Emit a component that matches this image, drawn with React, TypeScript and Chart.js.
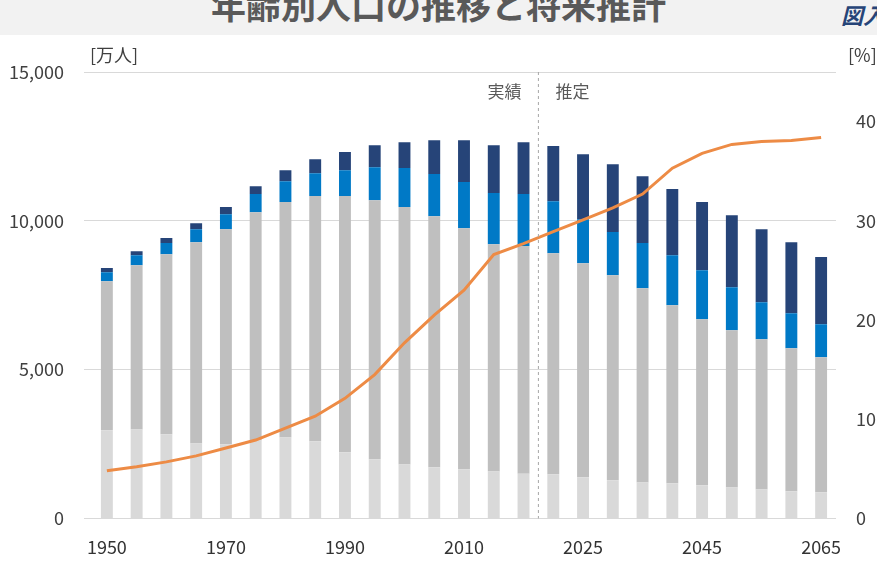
import React, { useEffect, useRef } from "react";
import { Chart, registerables } from "chart.js";
Chart.register(...registerables);

const years = ["1950","1955","1960","1965","1970","1975","1980","1985","1990","1995","2000","2005","2010","2015","2020","2020","2025","2030","2035","2040","2045","2050","2055","2060","2065"];
const age0to14 = [2960,2990,2830,2520,2490,2620,2720,2590,2220,1985,1815,1715,1650,1580,1500,1480,1380,1280,1210,1180,1110,1040,975,910,875];
const age15to64 = [5010,5520,6050,6760,7230,7670,7910,8240,8610,8705,8645,8435,8100,7630,7650,7430,7195,6890,6520,5980,5580,5280,5045,4810,4540];
const age65to74 = [300,335,370,440,500,610,700,770,870,1110,1310,1420,1550,1720,1750,1750,1480,1450,1520,1685,1650,1450,1240,1170,1105];
const age75plus = [140,135,170,200,240,265,370,470,610,740,870,1140,1410,1610,1740,1850,2185,2280,2250,2220,2290,2420,2460,2390,2260];
const ratio65 = [4.8,5.2,5.7,6.3,7.1,7.9,9.1,10.3,12.1,14.5,17.7,20.5,23.0,26.6,27.7,28.9,30.1,31.3,32.7,35.3,36.8,37.7,38.0,38.1,38.4];

const FONT = "'Noto Sans CJK JP', 'Noto Sans', sans-serif";

export default function App() {
  const ref = useRef<HTMLCanvasElement>(null);
  useEffect(() => {
    document.body.style.margin = "0";
    const overlay = {
      id: "overlay",
      afterDraw(chart: any) {
        const { ctx, chartArea } = chart;
        const x = chart.scales.x;
        const xm = (x.getPixelForValue(14) + x.getPixelForValue(15)) / 2;
        ctx.save();
        ctx.strokeStyle = "#a6a6a6";
        ctx.setLineDash([3, 3]);
        ctx.lineWidth = 1;
        ctx.beginPath();
        ctx.moveTo(xm, chartArea.top);
        ctx.lineTo(xm, chartArea.bottom);
        ctx.stroke();
        ctx.setLineDash([]);
        ctx.fillStyle = "#595959";
        ctx.font = `17px ${FONT}`;
        ctx.textBaseline = "middle";
        ctx.textAlign = "right";
        ctx.fillText("実績", xm - 17, chartArea.top + 20);
        ctx.textAlign = "left";
        ctx.fillText("推定", xm + 17, chartArea.top + 20);
        ctx.fillStyle = "#404040";
        ctx.font = `18px ${FONT}`;
        ctx.fillText("[万人]", 90, chartArea.top - 17);
        ctx.fillText("[%]", 848, chartArea.top - 17);
        ctx.restore();
      },
    };
    const chart = new Chart(ref.current!, {
      type: "bar",
      data: {
        labels: years,
        datasets: [
          { label: "0～14歳", data: age0to14, backgroundColor: "#d9d9d9", stack: "s", order: 1 },
          { label: "15～64歳", data: age15to64, backgroundColor: "#bfbfbf", stack: "s", order: 1 },
          { label: "65～74歳", data: age65to74, backgroundColor: "#0079c6", stack: "s", order: 1 },
          { label: "75歳以上", data: age75plus, backgroundColor: "#264478", stack: "s", order: 1 },
          { type: "line", label: "65歳以上割合", data: ratio65, yAxisID: "y2", borderColor: "#ed8b45", backgroundColor: "#ed8b45", borderWidth: 3, pointRadius: 0, tension: 0, order: 0 } as any,
        ],
      },
      options: {
        animation: false,
        responsive: false,
        layout: { padding: { top: 37, left: 0, right: 0, bottom: 0 } },
        plugins: {
          legend: {
            position: "bottom",
            labels: { font: { family: FONT, size: 15 }, color: "#404040", boxWidth: 14, boxHeight: 14, padding: 20,
              sort: (a: any, b: any) => a.datasetIndex - b.datasetIndex },
          },
          tooltip: { enabled: false },
        },
        scales: {
          x: {
            stacked: true,
            grid: { display: false },
            border: { display: false },
            ticks: {
              autoSkip: false,
              maxRotation: 0,
              color: "#333",
              font: { family: FONT, size: 18 },
              padding: 10,
              callback: (v: any, i: number) => ([0, 4, 8, 12, 16, 20, 24].includes(i) ? years[i] : ""),
            },
          },
          y: {
            stacked: true,
            min: 0,
            max: 15000,
            ticks: { stepSize: 5000, color: "#404040", font: { family: FONT, size: 18 }, padding: 20 },
            grid: { color: "#d9d9d9" },
            border: { display: false },
            afterFit: (s: any) => { s.width = 92; },
          },
          y2: {
            position: "right",
            min: 0,
            max: 45,
            ticks: { stepSize: 10, color: "#404040", font: { family: FONT, size: 18 }, padding: 12,
              callback: (v: any) => (v <= 40 ? String(v) : "") },
            grid: { display: false },
            border: { display: false },
            afterFit: (s: any) => { s.width = 41; },
          },
        },
        datasets: { bar: { barPercentage: 0.4, categoryPercentage: 1 } },
      } as any,
      plugins: [overlay],
    });
    return () => chart.destroy();
  }, []);
  return (
    <div style={{ position: "relative", width: 877, height: 573, overflow: "hidden", background: "#fff" }}>
      <div style={{ position: "absolute", left: 0, top: 0, width: 877, height: 35, background: "#f2f2f2", overflow: "hidden" }}>
        <div style={{ position: "absolute", left: 0, width: 877, top: -22, textAlign: "center", fontFamily: FONT, fontWeight: "bold", fontSize: 35, color: "#595959" }}>
          年齢別人口の推移と将来推計
        </div>
        <div style={{ position: "absolute", right: -8, top: -2, fontFamily: FONT, fontStyle: "italic", fontWeight: "bold", fontSize: 22, color: "#264478" }}>
          図入
        </div>
      </div>
      <canvas ref={ref} width={877} height={578} style={{ position: "absolute", left: 0, top: 35 }} />
    </div>
  );
}
